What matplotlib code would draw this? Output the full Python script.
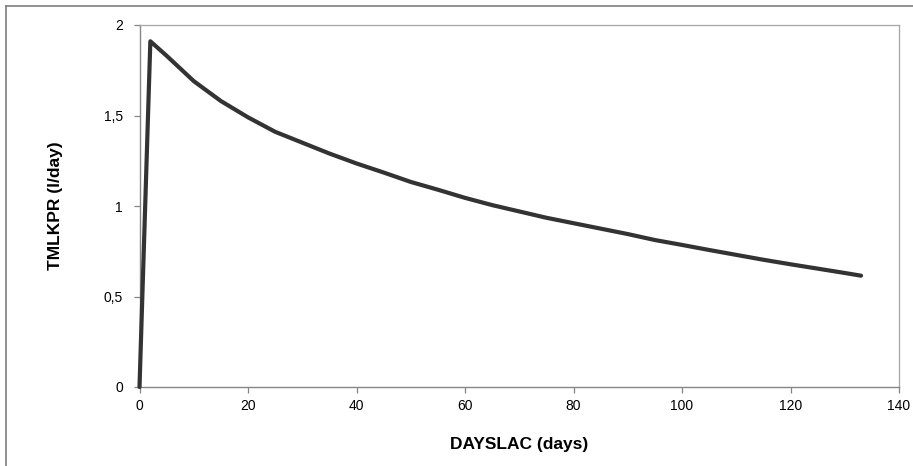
import matplotlib
matplotlib.use("Agg")
import matplotlib.pyplot as plt
from matplotlib.lines import Line2D

days = [0, 2, 5, 10, 15, 20, 25, 30, 35, 40, 45, 50, 55, 60, 65, 70, 75, 80,
        85, 90, 95, 100, 105, 110, 115, 120, 125, 130, 133]
tmlkpr = [0.0, 1.91, 1.83, 1.69, 1.58, 1.49, 1.41, 1.35, 1.29, 1.235, 1.185,
          1.133, 1.09, 1.045, 1.005, 0.97, 0.935, 0.905, 0.875, 0.845, 0.812,
          0.785, 0.757, 0.73, 0.703, 0.678, 0.654, 0.63, 0.615]
x_ticks = [0, 20, 40, 60, 80, 100, 120, 140]
y_ticks = [0, 0.5, 1, 1.5, 2]
y_tick_labels = ["0", "0,5", "1", "1,5", "2"]

plt.rcParams['font.family'] = ['Liberation Sans', 'DejaVu Sans']

W, H = 913, 466
fig = plt.figure(figsize=(W / 100, H / 100), dpi=100)
left, right, top, bottom = 139.5, 899, 25, 387
ax = fig.add_axes([left / W, 1 - bottom / H, (right - left) / W, (bottom - top) / H])

ax.plot(days, tmlkpr, color='#333333', linewidth=3.0, solid_joinstyle='round',
        solid_capstyle='round', zorder=3, clip_on=False)

ax.set_xlim(0, 140)
ax.set_ylim(0, 2)
ax.set_xticks(x_ticks)
ax.set_yticks(y_ticks)
ax.set_yticklabels(y_tick_labels)

for s in ['top', 'right']:
    ax.spines[s].set_color('#a6a6a6')
    ax.spines[s].set_linewidth(0.9)
for s in ['left', 'bottom']:
    ax.spines[s].set_color('#868686')
    ax.spines[s].set_linewidth(1.0)

ax.tick_params(axis='both', direction='out', length=4, width=0.9, color='#868686',
               labelsize=10, labelcolor='black')
ax.tick_params(axis='x', pad=5)
ax.tick_params(axis='y', pad=8)

ax.set_xlabel('DAYSLAC (days)', fontsize=12.5, fontweight='bold', labelpad=17)
ax.set_ylabel('TMLKPR (l/day)', fontsize=12.5, fontweight='bold', labelpad=29)

# outer frame (top and left visible)
fig.add_artist(Line2D([5.5 / W, 1], [1 - 5.5 / H, 1 - 5.5 / H], transform=fig.transFigure,
                      color='#7f7f7f', linewidth=1.2))
fig.add_artist(Line2D([5.5 / W, 5.5 / W], [0, 1 - 5.5 / H], transform=fig.transFigure,
                      color='#7f7f7f', linewidth=1.2))

fig.savefig('out.png', dpi=100)
